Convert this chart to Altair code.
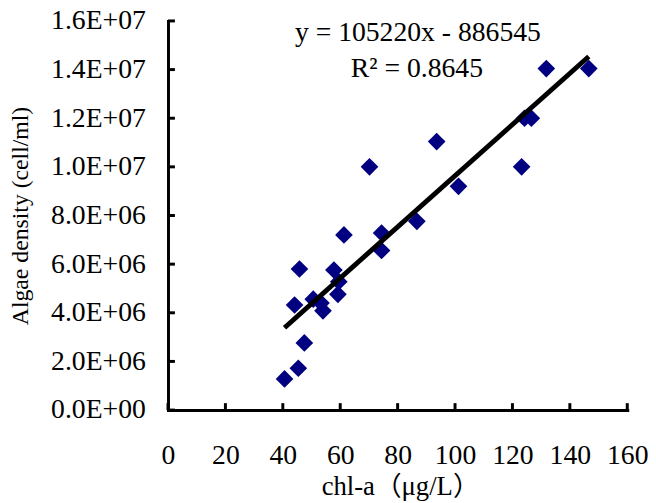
import altair as alt
import pandas as pd

# ---- data ----
chl_a = [40.6, 45.4, 47.5, 44.1, 45.8, 50.6, 53.3, 54.0, 57.8, 59.5, 59.2,
         61.3, 74.4, 74.4, 86.7, 70.2, 93.6, 101.2, 123.2, 124.2, 126.6,
         131.8, 146.6]
density = [1.28e6, 1.72e6, 2.76e6, 4.32e6, 5.8e6, 4.56e6, 4.4e6, 4.08e6,
           5.76e6, 5.28e6, 4.76e6, 7.2e6, 7.28e6, 6.56e6, 7.76e6, 1.0e7,
           1.104e7, 9.2e6, 1.0e7, 1.2e7, 1.2e7, 1.404e7, 1.404e7]

slope = 105220
intercept = -886545
r2 = 0.8645

x_ticks = [0, 20, 40, 60, 80, 100, 120, 140, 160]
y_ticks = [0, 2000000, 4000000, 6000000, 8000000, 10000000, 12000000,
           14000000, 16000000]
y_tick_labels = ["0.0E+00", "2.0E+06", "4.0E+06", "6.0E+06", "8.0E+06",
                 "1.0E+07", "1.2E+07", "1.4E+07", "1.6E+07"]

eq_text = "y = 105220x - 886545"
r2_text = "R² = 0.8645"
x_title = "chl-a（μg/L）"
y_title = "Algae density (cell/ml)"

# ---- tables ----
pts = pd.DataFrame({"chl": chl_a, "dens": density})
xs = [min(chl_a), max(chl_a)]
fit = pd.DataFrame({"chl": xs, "dens": [slope * v + intercept for v in xs]})
xt = pd.DataFrame({"chl": x_ticks})
yt = pd.DataFrame({"dens": y_ticks})

W, H = 465, 394
FONT = "Liberation Serif, Noto Sans CJK SC"
TICK_FS = 28

label_expr = " : ".join(
    f"datum.value == {v} ? '{l}'" for v, l in zip(y_ticks, y_tick_labels)
) + " : ''"

xscale = alt.Scale(domain=[0, 160], nice=False, zero=False)
yscale = alt.Scale(domain=[0, 16000000], nice=False)

x_axis = alt.Axis(values=x_ticks, ticks=False, tickSize=0, grid=False,
                  labelPadding=32, labelFont=FONT, labelFontSize=TICK_FS,
                  labelColor="black", domainColor="black", domainWidth=3,
                  domainCap="square", labelFlush=False, labelOverlap=False,
                  title=x_title, titleFont=FONT, titleFontSize=27,
                  titleFontWeight="normal", titleColor="black",
                  titleX=235, titleY=77, titleBaseline="middle",
                  titleAlign="center")
y_axis = alt.Axis(values=y_ticks, ticks=False, tickSize=0, grid=False,
                  labelPadding=23, labelFont=FONT, labelFontSize=TICK_FS,
                  labelColor="black", labelExpr=label_expr,
                  domainColor="black", domainWidth=3, domainCap="square",
                  labelFlush=False, labelOverlap=False,
                  title=y_title, titleFont="Liberation Serif",
                  titleFontSize=24, titleFontWeight="normal",
                  titleColor="black", titleX=-149, titleY=197,
                  titleAngle=270, titleAlign="center",
                  titleBaseline="middle")

X = alt.X("chl:Q", scale=xscale, axis=x_axis)
Y = alt.Y("dens:Q", scale=yscale, axis=y_axis)

points = alt.Chart(pts).mark_point(
    shape="diamond", filled=True, size=320, color="#000080", opacity=1
).encode(x=X, y=Y)

line = alt.Chart(fit).mark_line(color="black", strokeWidth=5).encode(
    x=X, y=Y)

xtick_rules = alt.Chart(xt).mark_rule(color="black", strokeWidth=3).encode(
    x=X,
    y=alt.value(H),
    y2=alt.value(H - 7),
)
ytick_rules = alt.Chart(yt).mark_rule(color="black", strokeWidth=3).encode(
    y=Y,
    x=alt.value(0),
    x2=alt.value(7),
)

eq = alt.Chart(pd.DataFrame({"t": [eq_text]})).mark_text(
    font=FONT, fontSize=TICK_FS, color="black", align="center",
    baseline="middle"
).encode(text="t:N", x=alt.value(253), y=alt.value(12))

r2t = alt.Chart(pd.DataFrame({"t": [r2_text]})).mark_text(
    font=FONT, fontSize=TICK_FS, color="black", align="center",
    baseline="middle"
).encode(text="t:N", x=alt.value(252), y=alt.value(49))

chart = alt.layer(xtick_rules, ytick_rules, points, line, eq, r2t).properties(
    width=W, height=H,
    autosize=alt.AutoSizeParams(type="none"),
    padding={"left": 162, "top": 10, "right": 21, "bottom": 91},
    background="white",
).configure_view(stroke=None)

chart.save("out.html", embed_options={"renderer": "svg", "actions": False})
